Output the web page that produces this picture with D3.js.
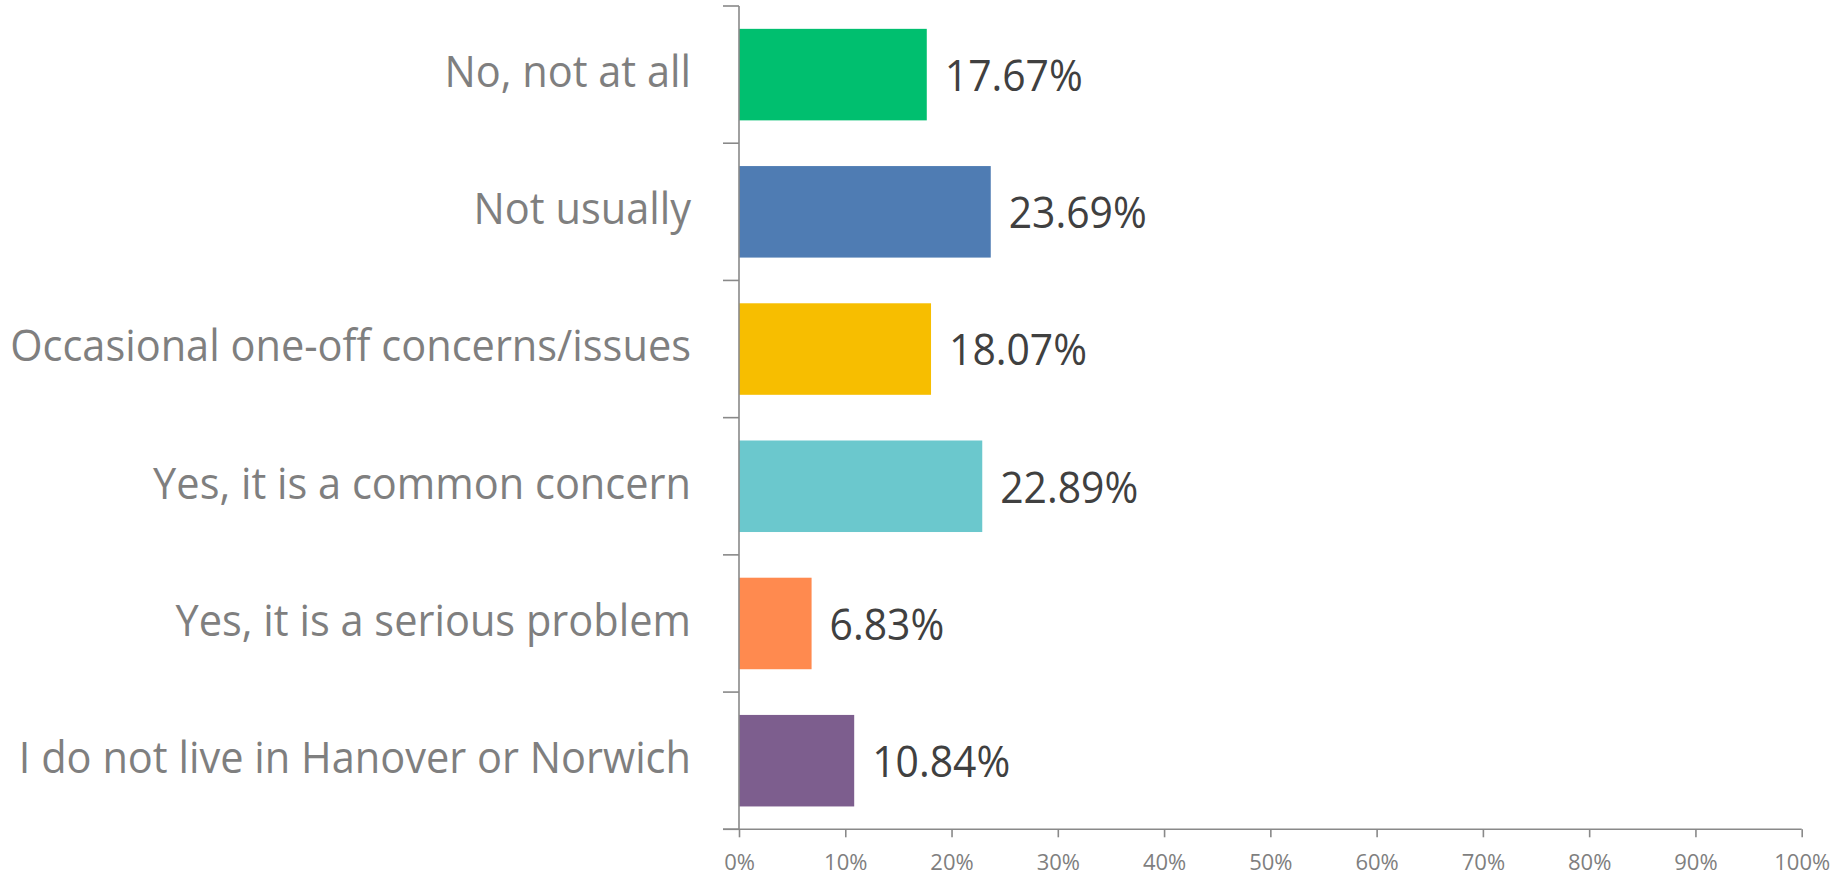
<!DOCTYPE html>
<html>
<head>
<meta charset="utf-8">
<script src="https://cdn.jsdelivr.net/npm/d3@7"></script>
<style>
  html, body { margin: 0; padding: 0; background: #fff; }
  svg { display: block; }
</style>
</head>
<body>
<svg id="chart" width="1847" height="876"></svg>
<script>
const categories = [
  "No, not at all",
  "Not usually",
  "Occasional one-off concerns/issues",
  "Yes, it is a common concern",
  "Yes, it is a serious problem",
  "I do not live in Hanover or Norwich"
];
const values = [0.1767, 0.2369, 0.1807, 0.2289, 0.0683, 0.1084];
const valueLabels = ["17.67%", "23.69%", "18.07%", "22.89%", "6.83%", "10.84%"];
const colors = ["#00BF6F", "#4F7CB3", "#F7BE00", "#6BC8CD", "#FF8A4F", "#7D5E8E"];
const xTicks = [0, 0.1, 0.2, 0.3, 0.4, 0.5, 0.6, 0.7, 0.8, 0.9, 1.0];

const data = categories.map((c, i) => ({ cat: c, v: values[i], label: valueLabels[i], color: colors[i] }));

const svg = d3.select("#chart");
const FONT = "'Open Sans', 'Noto Sans', sans-serif";
const axisColor = "#898989";

const x = d3.scaleLinear().domain([0, 1]).range([739, 1801.7]);
const y = d3.scaleBand().domain(categories).range([6, 829.3])
  .paddingInner(0.333).paddingOuter(0.1665);

// Bars
svg.append("g").selectAll("rect").data(data).join("rect")
  .attr("x", x(0))
  .attr("y", d => y(d.cat))
  .attr("width", d => x(d.v) - x(0))
  .attr("height", y.bandwidth())
  .attr("fill", d => d.color);

// X axis
const xAxis = d3.axisBottom(x).tickValues(xTicks).tickSize(8).tickPadding(17)
  .tickFormat(d3.format(".0%"));
const gx = svg.append("g").attr("transform", `translate(0,${y.range()[1]})`).call(xAxis);
gx.select(".domain").attr("stroke", axisColor).attr("stroke-width", 1.6)
  .attr("d", `M${x(0) - 16},0H${x(1)}`);
gx.selectAll(".tick line").attr("stroke", axisColor).attr("stroke-width", 1.6);
gx.selectAll(".tick text").attr("fill", "#7f7f7f").style("font-family", FONT).style("font-size", "22px");

// Y axis line and boundary ticks
const gy = svg.append("g");
gy.append("line")
  .attr("x1", x(0)).attr("x2", x(0))
  .attr("y1", y.range()[0]).attr("y2", y.range()[1])
  .attr("stroke", axisColor).attr("stroke-width", 1.6);
const bounds = d3.range(categories.length + 1).map(i => y.range()[0] + i * y.step());
gy.selectAll("line.b").data(bounds).join("line").attr("class", "b")
  .attr("x1", x(0) - 16).attr("x2", x(0))
  .attr("y1", d => d).attr("y2", d => d)
  .attr("stroke", axisColor).attr("stroke-width", 1.6);

// Category labels
const catFont = 43;
const catG = svg.append("g");
const catTexts = catG.selectAll("text").data(data).join("text")
  .attr("text-anchor", "end")
  .attr("fill", "#7f7f7f")
  .style("font-family", FONT)
  .style("font-size", catFont + "px")
  .text(d => d.cat);
let maxW = 0;
catTexts.each(function() { maxW = Math.max(maxW, this.getComputedTextLength()); });
const catScale = 681 / maxW;
catTexts.attr("transform", d => {
  const cy = y(d.cat) + y.bandwidth() / 2 - 3 + 15.3;
  return `translate(691,${cy}) scale(${catScale},1)`;
});

// Value labels
const valTexts = svg.append("g").selectAll("text").data(data).join("text")
  .attr("fill", "#404040")
  .style("font-family", FONT)
  .style("font-size", catFont + "px")
  .text(d => d.label);
let w0 = 0;
valTexts.filter((d, i) => i === 0).each(function() { w0 = this.getComputedTextLength(); });
const valScale = 138 / w0;
valTexts.attr("transform", d => {
  const cy = y(d.cat) + y.bandwidth() / 2 + 1 + 15.3;
  return `translate(${x(d.v) + 18},${cy}) scale(${valScale},1)`;
});
</script>
</body>
</html>
